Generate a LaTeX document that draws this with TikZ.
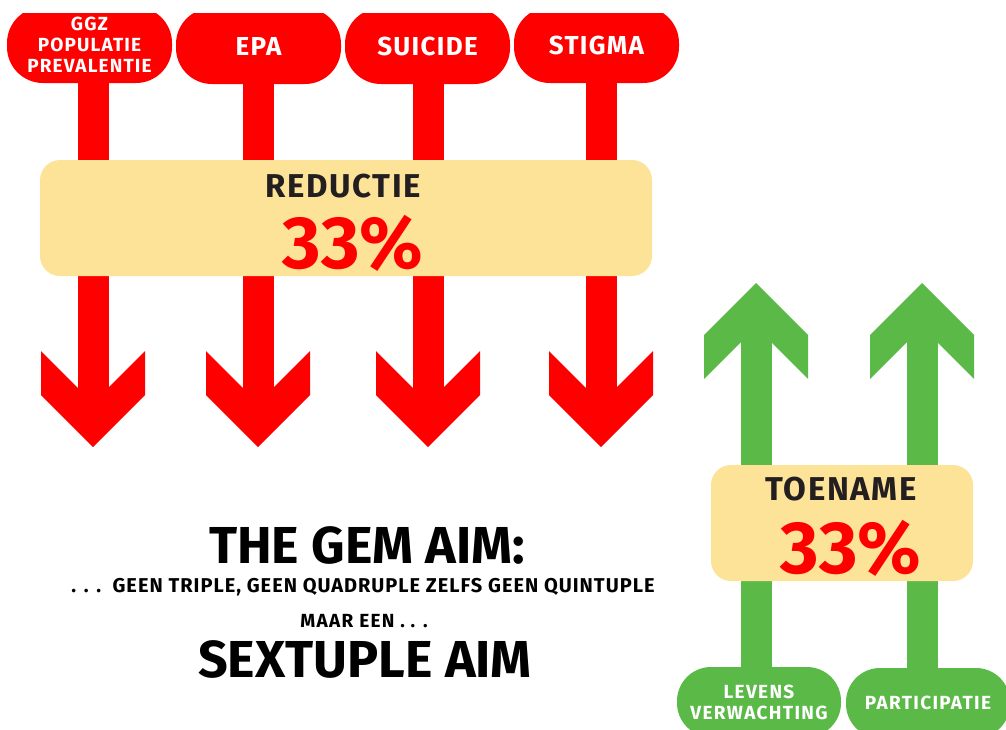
\documentclass[tikz,border=0pt]{standalone}
\usepackage{fontspec}
\setmainfont{Fira Sans}
\usetikzlibrary{positioning}
\definecolor{signred}{RGB}{255,0,0}
\definecolor{signgreen}{RGB}{91,186,71}
\definecolor{boxyellow}{RGB}{253,227,152}
\definecolor{inkdark}{RGB}{35,31,32}
% size, baselineskip, letter spacing
\newcommand{\fsz}[3]{\bfseries\fontsize{#1}{#2}\selectfont\addfontfeature{LetterSpace=#3}}
\tikzset{
  redpill/.style={fill=signred,rounded corners=36pt,minimum width=165pt,minimum height=76pt,
    text=white,align=center,inner sep=0pt,font=\fsz{26}{26}{5}},
  greenpill/.style={fill=signgreen,rounded corners=34pt,minimum width=164pt,minimum height=70pt,
    text=white,align=center,inner sep=0pt,font=\fsz{19}{21}{7}},
  redstem/.style={line width=31pt,signred},
  greenstem/.style={line width=31pt,signgreen},
  goalbox/.style={fill=boxyellow,rounded corners=20pt,minimum height=116pt,inner sep=0pt},
  boxtitle/.style={anchor=base,inner sep=0pt,text=inkdark,font=\fsz{33}{33}{5}},
  bigpct/.style={anchor=base,inner sep=0pt,text=signred,font=\fsz{74}{74}{0}},
  aimtext/.style={anchor=base,inner sep=0pt,text=black},
  downhead/.pic={\fill[signred] (0,0) -- (-52,-52) -- (-52,-96) -- (-15.5,-59.5)
    -- (15.5,-59.5) -- (52,-96) -- (52,-52) -- cycle;},
  uphead/.pic={\fill[signgreen] (0,0) -- (-52,52) -- (-52,96) -- (-15.5,59.5)
    -- (15.5,59.5) -- (52,96) -- (52,52) -- cycle;}
}
\begin{document}
\begin{tikzpicture}[x=1pt,y=-1pt]
  \useasboundingbox (0,0) rectangle (1006,729);
  \clip (0,13) rectangle (1006,729);
  % reductie side
  \node[redpill,font=\fsz{19}{21}{6}] (ggz) at (89.5,45) {GGZ\\POPULATIE\\PREVALENTIE};
  \node[redpill] (epa) at (258.5,46) {EPA};
  \node[redpill] (suicide) at (427.5,46) {SUICIDE};
  \node[redpill] (stigma) at (596.5,45) {STIGMA};
  \foreach \x/\n in {93/1,258/2,428/3,601/4}{
    \coordinate (rneck\n) at (\x,389);
    \coordinate (rtip\n) at (\x,447);
  }
  \foreach \n/\p in {1/ggz,2/epa,3/suicide,4/stigma}
    \draw[redstem] (rneck\n |- \p.south) -- (rneck\n);
  \node[goalbox,minimum width=612pt] (reductie) at (346,218) {};
  \node[boxtitle] (reductietitle) at (343,197) {REDUCTIE};
  \node[bigpct] (reductiepct) at (353,268) {33\%};
  \foreach \n in {1,...,4}
    \pic at (rtip\n) {downhead};
  % toename side
  \node[greenpill] (levens) at (759,702) {LEVENS\\VERWACHTING};
  \node[greenpill] (participatie) at (928,703) {PARTICIPATIE};
  \foreach \x/\n in {756/1,922/2}{
    \coordinate (gneck\n) at (\x,342);
    \coordinate (gtip\n) at (\x,283);
  }
  \draw[greenstem] (gneck1 |- levens.north) -- (gneck1);
  \draw[greenstem] (gneck2 |- participatie.north) -- (gneck2);
  \node[goalbox,minimum width=262pt] (toename) at (842,523) {};
  \node[boxtitle] (toenametitle) at (841,500) {TOENAME};
  \node[bigpct] (toenamepct) at (851,573) {33\%};
  \pic at (gtip1) {uphead};
  \pic at (gtip2) {uphead};
  % aim text
  \node[aimtext,font=\fsz{52}{52}{0}] (gemaim) at (367,563) {THE GEM AIM:};
  \node[aimtext,font=\fsz{20}{20}{5}] (notaim) at (363,592) {. . .\ \ GEEN TRIPLE, GEEN QUADRUPLE ZELFS GEEN QUINTUPLE};
  \node[aimtext,font=\fsz{19}{19}{7}] (maareen) at (364,627) {MAAR EEN . . .};
  \node[aimtext,font=\fsz{52}{52}{0}] (sextuple) at (365,677) {SEXTUPLE AIM};
\end{tikzpicture}
\end{document}
